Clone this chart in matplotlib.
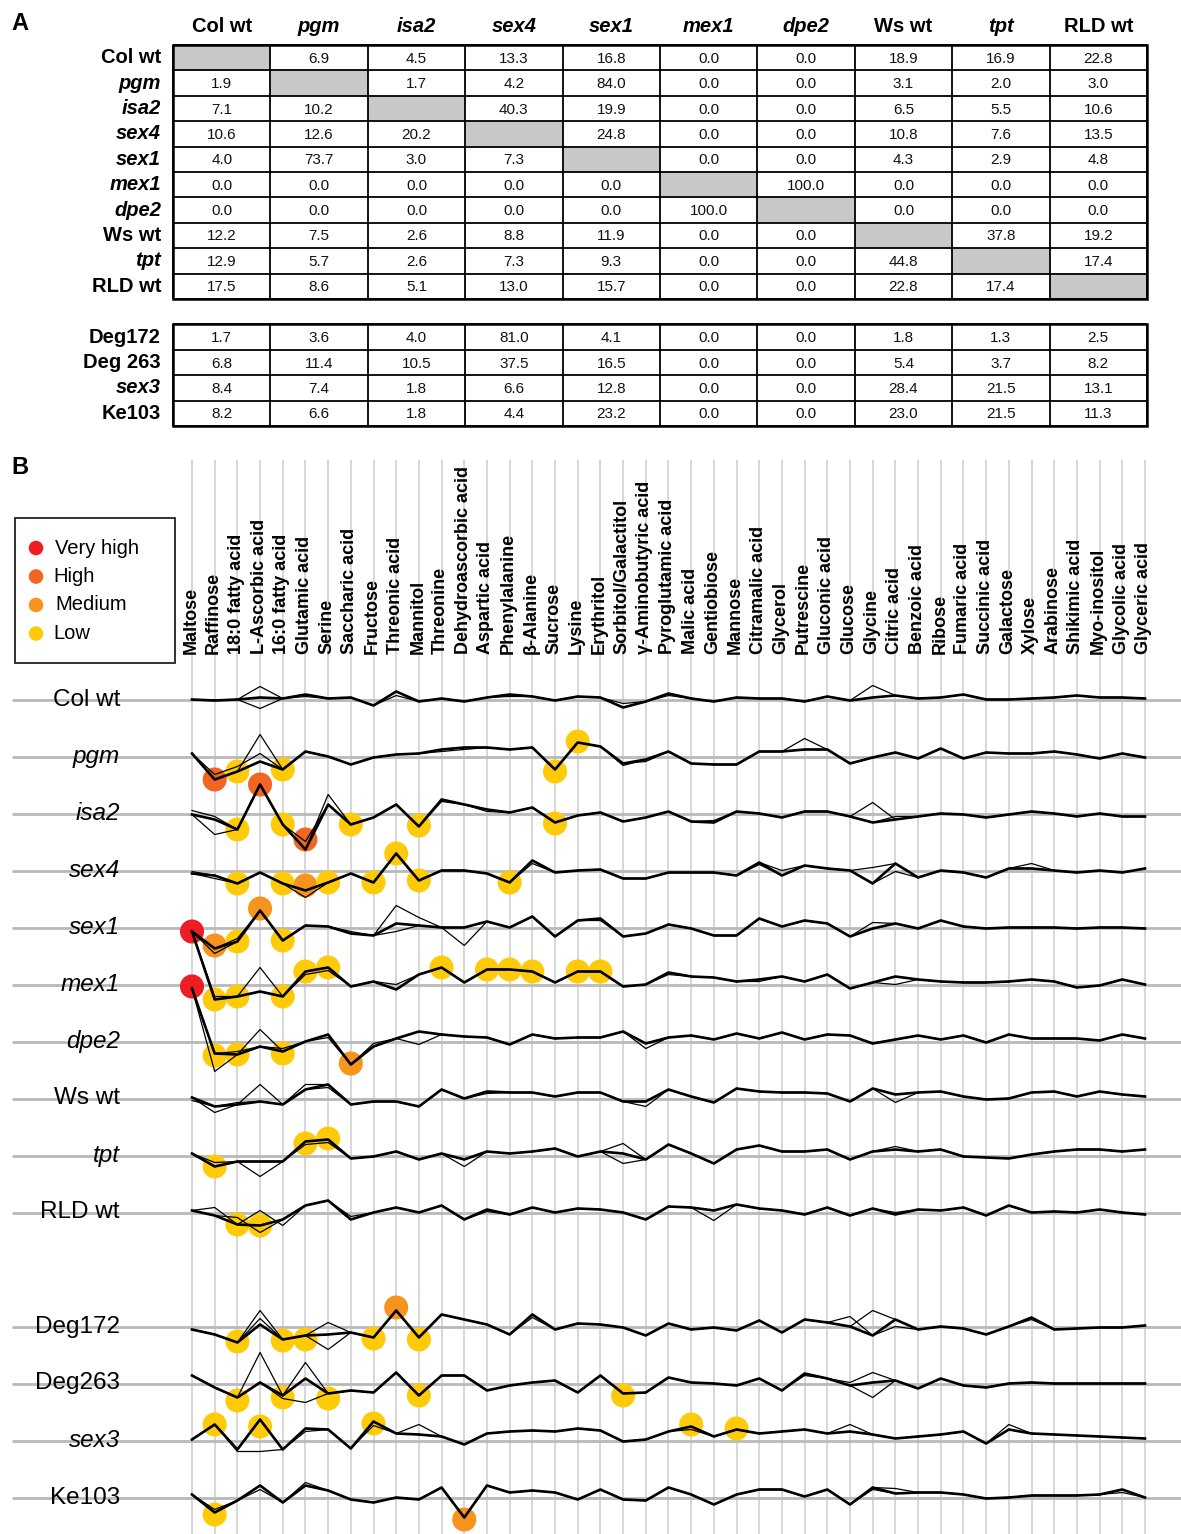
import numpy as np
import matplotlib.pyplot as plt
from matplotlib.patches import Rectangle

plt.rcParams['font.family'] = ['Liberation Sans', 'DejaVu Sans']

# ---------------- data: panel A ----------------
strains = ['Col wt', 'pgm', 'isa2', 'sex4', 'sex1', 'mex1', 'dpe2', 'Ws wt', 'tpt', 'RLD wt']
extra_strains = ['Deg172', 'Deg 263', 'sex3', 'Ke103']
italic_names = {'pgm', 'isa2', 'sex4', 'sex1', 'mex1', 'dpe2', 'tpt', 'sex3'}

pairwise = [
    [None, 6.9, 4.5, 13.3, 16.8, 0.0, 0.0, 18.9, 16.9, 22.8],
    [1.9, None, 1.7, 4.2, 84.0, 0.0, 0.0, 3.1, 2.0, 3.0],
    [7.1, 10.2, None, 40.3, 19.9, 0.0, 0.0, 6.5, 5.5, 10.6],
    [10.6, 12.6, 20.2, None, 24.8, 0.0, 0.0, 10.8, 7.6, 13.5],
    [4.0, 73.7, 3.0, 7.3, None, 0.0, 0.0, 4.3, 2.9, 4.8],
    [0.0, 0.0, 0.0, 0.0, 0.0, None, 100.0, 0.0, 0.0, 0.0],
    [0.0, 0.0, 0.0, 0.0, 0.0, 100.0, None, 0.0, 0.0, 0.0],
    [12.2, 7.5, 2.6, 8.8, 11.9, 0.0, 0.0, None, 37.8, 19.2],
    [12.9, 5.7, 2.6, 7.3, 9.3, 0.0, 0.0, 44.8, None, 17.4],
    [17.5, 8.6, 5.1, 13.0, 15.7, 0.0, 0.0, 22.8, 17.4, None],
]
extra_values = [
    [1.7, 3.6, 4.0, 81.0, 4.1, 0.0, 0.0, 1.8, 1.3, 2.5],
    [6.8, 11.4, 10.5, 37.5, 16.5, 0.0, 0.0, 5.4, 3.7, 8.2],
    [8.4, 7.4, 1.8, 6.6, 12.8, 0.0, 0.0, 28.4, 21.5, 13.1],
    [8.2, 6.6, 1.8, 4.4, 23.2, 0.0, 0.0, 23.0, 21.5, 11.3],
]

# ---------------- data: panel B ----------------
metabolites = ['Maltose', 'Raffinose', '18:0 fatty acid', 'L-Ascorbic acid', '16:0 fatty acid',
               'Glutamic acid', 'Serine', 'Saccharic acid', 'Fructose', 'Threonic acid', 'Mannitol',
               'Threonine', 'Dehydroascorbic acid', 'Aspartic acid', 'Phenylalanine', 'β-Alanine',
               'Sucrose', 'Lysine', 'Erythritol', 'Sorbitol/Galactitol', 'γ-Aminobutyric acid',
               'Pyroglutamic acid', 'Malic acid', 'Gentiobiose', 'Mannose', 'Citramalic acid', 'Glycerol',
               'Putrescine', 'Gluconic acid', 'Glucose', 'Glycine', 'Citric acid', 'Benzoic acid', 'Ribose',
               'Fumaric acid', 'Succinic acid', 'Galactose', 'Xylose', 'Arabinose', 'Shikimic acid',
               'Myo-inositol', 'Glycolic acid', 'Glyceric acid']

profile_rows = ['Col wt', 'pgm', 'isa2', 'sex4', 'sex1', 'mex1', 'dpe2', 'Ws wt', 'tpt', 'RLD wt',
                'Deg172', 'Deg263', 'sex3', 'Ke103']
row_slots = [0, 1, 2, 3, 4, 5, 6, 7, 8, 9, 11, 12, 13, 14]

# main profile per line (deviation, up is positive)
profiles = {
    'Col wt': [0, -1, 0, 2, 1, 5, 1, 2, -6, 8, -2, 1, -2, 2, 5, 3, -1, 3, 2, -8, -2, 6, 1, -2, 2, 1,
               1, -2, 3, -1, 2, 4, 1, 2, 5, 0, 0, 1, 2, 4, 2, 2, 1],
    'pgm': [3, -23, -15, -5, -13, 5, 0, -8, -1, 2, 3, 7, 9, 9, 7, 9, -13, 14, 10, -7, -3, 5, -7, -8, -8,
            5, 5, 7, 7, -7, -1, 4, -2, 8, -2, 4, 3, 3, 5, 2, -2, 3, -1],
    'isa2': [-1, -6, -16, 29, -11, -36, 9, -11, -4, 9, -13, 14, 9, 4, 1, 6, -9, -2, 1, -8, -4, 2, -8, -9,
             2, 0, -4, 2, 2, -3, -9, -6, -3, 0, -1, -4, -1, 2, 0, -3, 0, -3, -3],
    'sex4': [-3, -5, -13, -2, -13, -20, -12, -3, -12, 17, -10, 0, 0, -3, -12, 10, -2, 0, 1, -8, -8, -2,
             -2, -2, -5, 8, -5, 5, 2, 0, -13, 7, -7, 0, -2, -7, 2, 2, 0, -2, 0, -2, 2],
    'sex1': [-4, -21, -14, 17, -13, 2, 1, -6, -8, 4, 2, 0, 0, 6, 0, 11, -9, 7, 9, -9, -6, 3, -1, -8, -8,
             9, 1, 7, 4, -9, -1, 4, -1, 7, 1, -1, 0, 0, 0, -1, 0, 0, -1],
    'mex1': [53, -15, -12, -7, -12, 13, 17, -2, 3, -5, 10, 17, 2, 15, 15, 13, 2, 13, 13, -2, 0, 12, 8, 7,
             3, 5, 8, 3, 10, -4, 2, 8, 5, 3, 2, 2, 3, 5, 3, -3, -1, 5, 0],
    'dpe2': [53, -12, -13, -5, -10, 0, 7, -23, -5, 3, 10, 7, 5, 4, -3, 7, 3, 4, 4, 10, -2, 4, 6, 2, 8, 3,
             9, 2, 7, 6, -2, 2, 6, 2, 6, -1, 7, 3, 3, 3, 1, 7, 3],
    'Ws wt': [1, -8, -6, -3, -6, 9, 14, -6, -3, -3, -8, 9, 0, 7, 6, 6, 2, 6, 6, -3, -3, 9, 2, -4, 10, 7,
              6, 6, 5, -3, 10, 4, 6, 7, 2, -1, 0, 6, 7, 2, 7, 4, 2],
    'tpt': [2, -11, -6, -6, -6, 14, 16, -3, -1, 4, -4, 2, -4, 4, 2, 4, 7, -1, 4, 2, -4, 11, 2, -8, 6, 10,
            4, 4, 6, -4, 4, 6, 4, 6, -1, -2, -3, 1, 4, 6, 6, 4, 6],
    'RLD wt': [2, -3, -12, -13, -7, 7, 12, -7, 0, 5, 0, 7, -7, 3, -2, 5, 0, 4, 3, 0, -7, 6, 5, 2, 8, 4,
               2, -2, 5, -3, 4, -2, 3, 2, 5, -3, 7, 0, 1, 0, 3, 0, -2],
    'Deg172': [-3, -8, -16, 2, -13, -9, -8, -6, -11, 16, -11, 12, 7, 2, -8, 12, -3, 3, 2, -1, -9, 3, -3,
               -1, -4, 6, -6, 7, 4, 0, -9, 7, -3, 0, -2, -8, 0, 9, -3, -2, -1, -1, 1],
    'Deg263': [8, -4, -14, 1, -12, 5, -10, -7, -9, 11, -12, 8, 8, -7, -2, 1, 3, -9, 8, -10, -9, 6, 1, 0,
               -2, 5, -7, 10, 5, -2, 1, 3, -5, 5, -2, -4, 0, 1, 0, 0, 0, 0, 0],
    'sex3': [1, 16, -9, 21, -9, 12, 11, -8, 19, 7, 6, 4, -4, 7, 9, 10, 9, 12, 10, -1, 1, 9, 14, 4, 11, 7,
             9, 11, 7, 9, 6, 2, 4, 6, 9, -3, 11, 7, 6, 5, 4, 3, 2],
    'Ke103': [3, -15, -3, 12, -5, 12, 7, -2, -5, 0, -2, 10, -20, 12, 5, 7, 5, -2, 8, -2, -3, 10, 3, -7, 3,
              8, 8, 1, 8, -7, 10, 4, 5, 5, 3, -1, 0, 2, 2, 2, 3, 8, 0],
}

# replicates that depart from the main profile: {metabolite index: value}
replicates = {
    'Col wt': [{3: 13, 30: 14}, {3: -9, 9: 4, 19: -4}, {5: 3, 14: 3, 21: 4}],
    'pgm': [{3: 22, 27: 18}, {1: -18, 2: -10, 3: 3, 19: -9}, {11: 5, 12: 7, 20: -5}],
    'isa2': [{1: -21, 6: 19, 30: 11}, {0: 3, 1: -3, 5: -28, 31: -3}, {11: 12, 13: 2, 23: -7}],
    'sex4': [{5: -27, 30: 3, 37: 7}, {0: -1, 26: 0, 31: -1}, {1: -8, 15: 7, 25: 6}],
    'sex1': [{1: -26, 9: 22, 10: 10}, {9: -4, 12: -18, 30: 5}, {2: -11, 7: -4, 18: 7}],
    'mex1': [{3: 17, 31: 0}, {5: 10, 6: 14, 9: 0}, {1: -12, 21: 10, 25: 3}],
    'dpe2': [{1: -30, 3: 12, 10: -3}, {6: 4, 20: -7}, {2: -10, 4: -7, 8: -2}],
    'Ws wt': [{1: -14, 3: 14, 20: -8}, {0: -2, 5: 14, 31: -4}, {2: -4, 6: 11, 13: 5}],
    'tpt': [{3: -21, 12: -11}, {1: -7, 19: 12, 31: 9}, {19: -8, 5: 11, 6: 13}],
    'RLD wt': [{1: 5, 3: 2, 4: -13}, {2: -5, 3: -20, 23: -8}, {7: -4, 13: 1, 31: 0}],
    'Deg172': [{3: 16, 6: 4, 30: 16}, {6: -23, 29: 10, 31: 0}, {3: 8, 15: 9, 37: 7}],
    'Deg263': [{3: 31, 5: 21}, {4: -15, 5: -19, 30: -14}, {30: 11, 29: 1, 27: 8}],
    'sex3': [{2: -11, 3: -11, 10: 16}, {29: 16, 36: 16}, {5: 9, 8: 15, 22: 11}],
    'Ke103': [{3: 8, 5: 15}, {31: 9}, {1: -12, 30: 8, 41: 5}],
}

levels = ['Very high', 'High', 'Medium', 'Low']
level_colors = ['#ee1d23', '#f26522', '#f7941d', '#ffcb08']

# significant changes: (metabolite index, level, deviation)
highlights = {
    'pgm': [(1, 'High', -23), (2, 'Low', -15), (4, 'Low', -13), (16, 'Low', -15), (17, 'Low', 15)],
    'isa2': [(2, 'Low', -16), (3, 'High', 29), (4, 'Low', -11), (5, 'High', -26), (7, 'Low', -11),
             (10, 'Low', -12), (16, 'Low', -10)],
    'sex4': [(2, 'Low', -13), (4, 'Low', -13), (5, 'Medium', -15), (6, 'Low', -12), (8, 'Low', -12),
             (9, 'Low', 17), (10, 'Low', -10), (14, 'Low', -12)],
    'sex1': [(0, 'Very high', -4), (1, 'Medium', -18), (2, 'Low', -14), (3, 'Medium', 19), (4, 'Low', -13)],
    'mex1': [(0, 'Very high', -2), (1, 'Low', -15), (2, 'Low', -12), (4, 'Low', -12), (5, 'Low', 13),
             (6, 'Low', 17), (11, 'Low', 17), (13, 'Low', 15), (14, 'Low', 15), (15, 'Low', 13),
             (17, 'Low', 13), (18, 'Low', 13)],
    'dpe2': [(1, 'Low', -14), (2, 'Low', -13), (4, 'Low', -12), (7, 'Medium', -22)],
    'tpt': [(1, 'Low', -11), (5, 'Low', 12), (6, 'Low', 17)],
    'RLD wt': [(2, 'Low', -12), (3, 'Low', -13)],
    'Deg172': [(2, 'Low', -15), (4, 'Low', -14), (5, 'Low', -13), (8, 'Low', -12), (9, 'Medium', 19),
               (10, 'Low', -13)],
    'Deg263': [(2, 'Low', -17), (4, 'Low', -14), (6, 'Low', -15), (10, 'Low', -12), (19, 'Low', -12)],
    'sex3': [(1, 'Low', 16), (3, 'Low', 14), (8, 'Low', 17), (22, 'Low', 16), (24, 'Low', 12)],
    'Ke103': [(1, 'Low', -17), (12, 'Medium', -22)],
}

# ---------------- figure ----------------
W, H = 1181, 1534
fig = plt.figure(figsize=(W / 100, H / 100), dpi=100)
ax = fig.add_axes([0, 0, 1, 1])
ax.set_xlim(0, W)
ax.set_ylim(H, 0)
ax.axis('off')

# ---- panel A: table ----
tab_left, col_w = 173, 97.4
tab_top, row_h = 45, 25.4
ncol = len(strains)
ax.text(11, 24, 'A', fontsize=17, fontweight='bold', va='center', ha='left')

for j, name in enumerate(strains):
    ax.text(tab_left + (j + 0.5) * col_w, 26, name, fontsize=14.5, fontweight='bold',
            style='italic' if name in italic_names else 'normal', ha='center', va='center')


def draw_block(names, values, slot0):
    top = tab_top + slot0 * row_h
    nrow = len(names)
    for r, (name, vals) in enumerate(zip(names, values)):
        yc = top + (r + 0.5) * row_h
        ax.text(161, yc, name, fontsize=14.5, fontweight='bold', ha='right', va='center',
                style='italic' if name in italic_names else 'normal')
        for j, v in enumerate(vals):
            xl = tab_left + j * col_w
            if v is None:
                ax.add_patch(Rectangle((xl, top + r * row_h), col_w, row_h, facecolor='#c8c8c8',
                                       edgecolor='none', zorder=1))
            else:
                ax.text(xl + col_w / 2, yc + 1, f'{v:.1f}', fontsize=11, ha='center', va='center',
                        color='#111111')
    bottom = top + nrow * row_h
    right = tab_left + ncol * col_w
    ax.hlines([top + r * row_h for r in range(nrow + 1)], tab_left, right, color='black', lw=1.3, zorder=2)
    ax.vlines([tab_left + j * col_w for j in range(ncol + 1)], top, bottom, color='black', lw=1.3, zorder=2)
    ax.add_patch(Rectangle((tab_left, top), right - tab_left, bottom - top, fill=False,
                           edgecolor='black', lw=1.8, zorder=3))


draw_block(strains, pairwise, 0)
draw_block(extra_strains, extra_values, 11)

# ---- panel B: profiles ----
ax.text(11, 467, 'B', fontsize=17, fontweight='bold', va='center', ha='left')

col_x0, col_dx = 192, 22.69
base_y0, base_dy = 699.5, 57.0
xs = col_x0 + col_dx * np.arange(len(metabolites))

ax.vlines(xs, 460, H, color='#cdcdcd', lw=1.1, zorder=0)
for x, m in zip(xs, metabolites):
    ax.text(x - 1, 654, m, rotation=90, fontsize=13, fontweight='bold', ha='center', va='bottom',
            zorder=2)

# legend
ax.add_patch(Rectangle((15, 518), 160, 145, fill=False, edgecolor='#222222', lw=1.3, zorder=3))
for k, (lev, c) in enumerate(zip(levels, level_colors)):
    ly = 548 + k * 28.5
    ax.scatter([36], [ly], s=110, color=c, edgecolors='none', zorder=4)
    ax.text(53 + (2 if k in (0, 2) else 0), ly, lev, fontsize=14.5, va='center', ha='left', zorder=4)

for name, slot in zip(profile_rows, row_slots):
    base = base_y0 + base_dy * slot
    ax.plot([12, W], [base, base], color='#b9b9b9', lw=2.0, zorder=0.5, solid_capstyle='butt')
    ax.text(120, base, name, fontsize=17.5, ha='right', va='center', zorder=2,
            style='italic' if name in italic_names else 'normal')
    main = np.array(profiles[name], dtype=float)
    for pt in highlights.get(name, []):
        idx, lev, dev = pt
        ax.scatter([xs[idx]], [base - dev], s=300, color=level_colors[levels.index(lev)],
                   edgecolors='none', zorder=3)
    for rep in replicates[name]:
        vals = main.copy()
        for idx, v in rep.items():
            vals[idx] = v
        ax.plot(xs, base - vals, color='black', lw=0.9, zorder=4)
    ax.plot(xs, base - main, color='black', lw=1.9, zorder=5)

fig.savefig('out.png', dpi=100)
